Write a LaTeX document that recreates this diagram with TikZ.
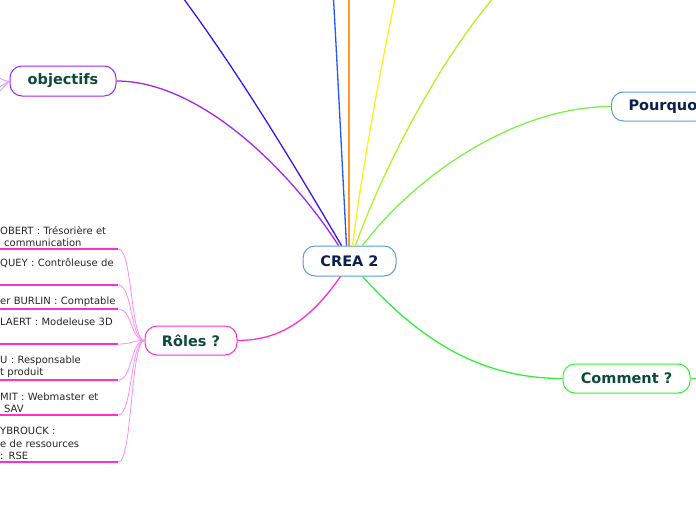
\documentclass[tikz,border=0pt]{standalone}
\usepackage{fontspec}
\setmainfont{DejaVu Sans}
\usepackage{xcolor}
\usetikzlibrary{positioning}

\definecolor{creablue}{HTML}{5B9BD5}
\definecolor{navytext}{HTML}{0B1F4B}
\definecolor{greentext}{HTML}{0E4A3A}
\definecolor{objpurple}{HTML}{A526EE}
\definecolor{rolmagenta}{HTML}{FF2ED2}
\definecolor{rolthin}{HTML}{FF8CEE}
\definecolor{comgreen}{HTML}{36EE36}
\definecolor{pqgreen}{HTML}{7CF24A}
\definecolor{darkblueline}{HTML}{3A16EE}
\definecolor{blueline}{HTML}{2458FF}
\definecolor{orangeline}{HTML}{FF9A28}
\definecolor{yellowline}{HTML}{F8F21E}
\definecolor{limeline}{HTML}{AEF526}

\begin{document}
\begin{tikzpicture}[
    x=1pt, y=-1pt,
    topic/.style={rectangle, rounded corners=12pt, draw, line width=1pt, fill=white, minimum height=29pt, inner sep=0pt, font=\fontsize{14.5}{16}\selectfont\bfseries},
    rolebox/.style={anchor=south west, text width=118pt, inner xsep=0pt, inner ysep=2pt, align=left, font=\fontsize{10}{12.5}\selectfont, text=black!85},
    branch/.style={line width=1.3pt},
    twig/.style={line width=0.8pt, rolthin},
    uline/.style={line width=1.3pt, rolmagenta}
]
    \useasboundingbox (0,0) rectangle (696,520);
    \clip (0,0) rectangle (696,520);

    % Centre
    \node[topic, draw=creablue, text=navytext, minimum width=93pt, minimum height=30pt] (crea) at (349.5,261) {CREA 2};

    % Main topics
    \node[topic, draw=objpurple, text=greentext, minimum width=106pt, minimum height=30pt] (obj) at (63,81) {objectifs};
    \node[topic, draw=rolmagenta, text=greentext, minimum width=92pt] (roles) at (191,340.5) {Rôles ?};
    \node[topic, draw=comgreen, text=greentext, minimum width=127pt] (comment) at (626.5,378.5) {Comment ?};
    \node[topic, draw=creablue, text=navytext, anchor=west, minimum width=110pt, inner xsep=17pt] (pourquoi) at (611,106.5) {Pourquoi ?};

    % Branches leaving the picture
    \coordinate (outA) at (168,-22);
    \coordinate (outB) at (333,-10);
    \coordinate (outC) at (349,-10);
    \coordinate (outD) at (397,-10);
    \coordinate (outE) at (500,-10);
    \coordinate (outF) at (710,378.5);
    \coordinate (objA) at (-10,72);
    \coordinate (objB) at (-10,94);
    \coordinate (objC) at (-10,104);

    % Branches from the centre
    \draw[branch, objpurple] ([xshift=-11pt]crea.north) .. controls (290,170) and (200,81) .. (obj.east);
    \draw[branch, darkblueline] ([xshift=-8pt]crea.north) .. controls (300,175) and (235,65) .. (outA);
    \draw[branch, blueline] ([xshift=-3pt]crea.north) .. controls (342,160) and (337,60) .. (outB);
    \draw[branch, draw=orangeline] ([xshift=-0.5pt]crea.north) -- (outC);
    \draw[branch, yellowline] ([xshift=3pt]crea.north) .. controls (362,170) and (380,70) .. (outD);
    \draw[branch, limeline] ([xshift=6pt]crea.north) .. controls (375,190) and (430,70) .. (outE);
    \draw[branch, pqgreen] ([xshift=13pt]crea.north) .. controls (420,170) and (520,106.5) .. (pourquoi.west);
    \draw[branch, comgreen] ([xshift=13pt]crea.south) .. controls (420,340) and (480,378.5) .. (comment.west);
    \draw[branch, rolmagenta] ([xshift=-9pt]crea.south) .. controls (310,320) and (280,340.5) .. (roles.east);
    \draw[branch, comgreen] (comment.east) -- (outF);

    % Twigs of objectifs
    \draw[line width=0.8pt, objpurple!45] (obj.west) .. controls (4,81) .. (objA);
    \draw[line width=0.8pt, objpurple!45] (obj.west) .. controls (4,84) .. (objB);
    \draw[line width=0.8pt, objpurple!45] (obj.west) .. controls (4,86) .. (objC);

    % Roles
    \node[rolebox] (r1) at (0,249) {OBERT : Trésorière et\\\hspace*{4pt}communication};
    \node[rolebox] (r2) at (0,285) {QUEY : Contrôleuse de\\ \strut};
    \node[rolebox] (r3) at (0,309) {er BURLIN : Comptable};
    \node[rolebox] (r4) at (0,344) {LAERT : Modeleuse 3D\\ \strut};
    \node[rolebox] (r5) at (0,380) {U : Responsable\\t produit};
    \node[rolebox] (r6) at (0,415) {MIT : Webmaster et\\\hspace*{4pt}SAV};
    \node[rolebox] (r7) at (0,462) {YBROUCK :\\e de ressources\\: RSE};

    \foreach \r in {r1,r2,r3,r4,r5,r6,r7}{
        \draw[uline] ([xshift=-6pt]\r.south west) -- (\r.south east);
        \draw[twig] (\r.south east) .. controls +(14,0) and +(-14,0) .. (roles.west);
    }
\end{tikzpicture}
\end{document}
